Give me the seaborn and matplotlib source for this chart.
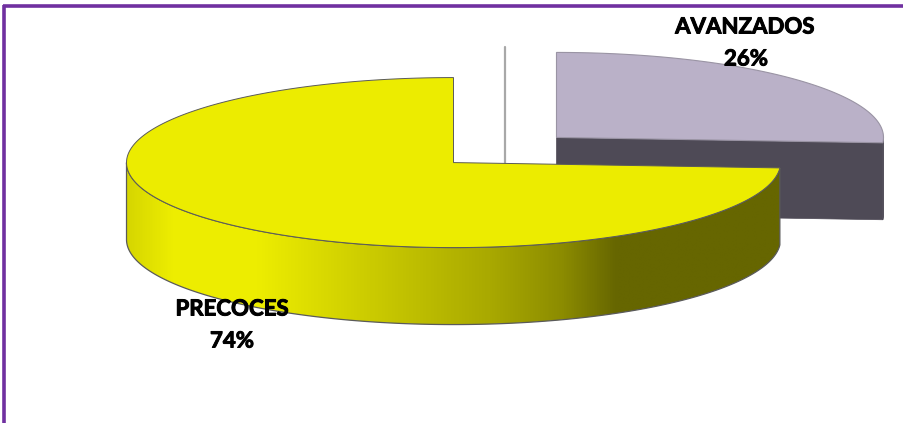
import numpy as np
import matplotlib
matplotlib.use("Agg")
import matplotlib.pyplot as plt
from matplotlib.patches import Polygon
from matplotlib.colors import LinearSegmentedColormap
import matplotlib.patheffects as pe
import seaborn as sns

# ---- data ----
categories = ["AVANZADOS", "PRECOCES"]
values = [26, 74]

sns.set_theme(style="white")
plt.rcParams['font.family'] = ['Lato', 'DejaVu Sans']

top_colors = ["#BAB1C8", "#ECEC00"]
side_colors = ["#4E4A56", None]

W, H = 904, 423
fig = plt.figure(figsize=(W / 100, H / 100), dpi=100)
ax = fig.add_axes([0, 0, 1, 1])

# geometry (pixel space, y down)
cx, cy = 505, 150
rx, ry = 327, 85
depth = 77
explode = 0.216

total = float(sum(values))
start = 90.0
slices = []
for v in values:
    span = 360.0 * v / total
    a0, a1 = start, start - span  # clockwise
    mid = np.deg2rad((a0 + a1) / 2)
    tx = cx + explode * rx * np.cos(mid)
    ty = cy - explode * ry * np.sin(mid)
    slices.append((a0, a1, tx, ty))
    start = a1

def rim(tx, ty, angs, dz=0):
    t = np.deg2rad(angs)
    return np.column_stack([tx + rx * np.cos(t), ty - ry * np.sin(t) + dz])

edge = "#5a5a5a"

# --- AVANZADOS (back slice) ---
a0, a1, tx, ty = slices[0]
p_end = rim(tx, ty, [a1])[0]
face = np.array([[tx, ty], p_end, p_end + [0, depth], [tx, ty + depth]])
ax.add_patch(Polygon(face, closed=True, fc=side_colors[0], ec=side_colors[0], lw=0.5, zorder=1))
angs = np.linspace(a1, 0, 10)
sl = np.vstack([rim(tx, ty, angs), rim(tx, ty, angs[::-1], depth)])
ax.add_patch(Polygon(sl, closed=True, fc=side_colors[0], ec=side_colors[0], lw=0.5, zorder=1))
angs = np.linspace(a0, a1, 200)
topg = np.vstack([[tx, ty], rim(tx, ty, angs)])
ax.add_patch(Polygon(topg, closed=True, fc=top_colors[0], ec="#9a94a4", lw=0.8, zorder=2))

# thin vertical divider line at original centre
ax.plot([cx, cx], [cy - ry - 18, slices[1][3] + 1], color="#a8a8a8", lw=1.6, zorder=0.5)

# --- PRECOCES (front slice) ---
a0, a1, tx, ty = slices[1]
side_angs = np.linspace(a0, -180, 300)
side = np.vstack([rim(tx, ty, side_angs), rim(tx, ty, side_angs[::-1], depth)])
side_poly = Polygon(side, closed=True, fc="none", ec=edge, lw=0.9, zorder=4)
stops_x = [tx - rx, tx - rx + 45, tx - rx + 130, tx - rx + 240, tx - rx + 365, tx - rx + 435, tx - rx + 490, tx + rx]
stops_c = [(0.84, 0.84, 0.0), (0.93, 0.93, 0.0), (0.93, 0.93, 0.0), (0.80, 0.80, 0.0),
           (0.66, 0.66, 0.0), (0.55, 0.55, 0.0), (0.40, 0.40, 0.0), (0.40, 0.40, 0.0)]
pos = [(x - stops_x[0]) / (stops_x[-1] - stops_x[0]) for x in stops_x]
cmap = LinearSegmentedColormap.from_list("yel", list(zip(pos, stops_c)))
grad = np.linspace(0, 1, 512)[None, :]
x0, x1 = tx - rx, tx + rx
y0, y1 = ty - 5, ty + ry + depth + 5
im = ax.imshow(grad, cmap=cmap, extent=[x0, x1, y1, y0], aspect="auto", zorder=3, interpolation="bilinear")
clip = Polygon(side, closed=True, transform=ax.transData, fc="none", ec="none")
ax.add_patch(clip)
im.set_clip_path(clip)
ax.add_patch(side_poly)
angs = np.linspace(a0, a1, 400)
topy = np.vstack([[tx, ty], rim(tx, ty, angs)])
ax.add_patch(Polygon(topy, closed=True, fc=top_colors[1], ec=edge, lw=0.7, zorder=5))

# --- labels ---
fs = 16
kw = dict(ha="center", va="center", fontsize=fs, fontweight="bold", color="black", zorder=10,
          path_effects=[pe.withStroke(linewidth=0.7, foreground="black")])
ax.text(745, 27, categories[0], **kw)
ax.text(746, 59, f"{values[0]}%", **kw)
ax.text(232, 309, categories[1], **kw)
ax.text(232, 341, f"{values[1]}%", **kw)

# --- purple frame (top and left) ---
ax.plot([3, W], [6.5, 6.5], color="#7030A0", lw=2.6, solid_capstyle="butt", zorder=11)
ax.plot([4.5, 4.5], [5.2, H], color="#7030A0", lw=2.6, solid_capstyle="butt", zorder=11)

ax.set_xlim(0, W)
ax.set_ylim(H, 0)
ax.axis("off")
fig.savefig("out.png", dpi=100, facecolor="white")
